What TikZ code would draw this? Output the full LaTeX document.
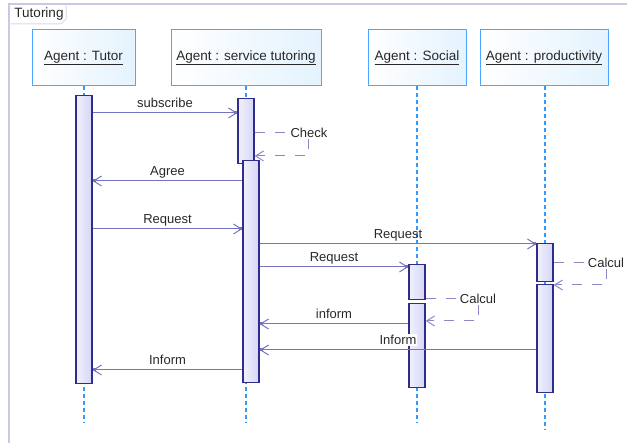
\documentclass[tikz,border=0pt]{standalone}
\usepackage{fontspec}
\setmainfont{Liberation Sans}
\usetikzlibrary{arrows.meta}

\definecolor{headline}{RGB}{77,166,255}
\definecolor{headfill}{RGB}{228,243,254}
\definecolor{actline}{RGB}{46,46,138}
\definecolor{actfill}{RGB}{214,214,248}
\definecolor{msgcol}{RGB}{116,116,192}
\definecolor{lifecol}{RGB}{51,153,255}
\definecolor{framecol}{RGB}{201,201,230}
\definecolor{textcol}{RGB}{40,40,40}

\begin{document}
\begin{tikzpicture}[x=1pt,y=-1pt,
  head/.style={draw=headline, line width=1pt, left color=white, right color=headfill,
    minimum height=56pt, inner sep=0pt, text=textcol, font=\fontsize{13.5}{16}\selectfont},
  act/.style={draw=actline, line width=1.3pt, left color=actfill!35, right color=actfill,
    minimum width=16pt, inner sep=0pt, anchor=north},
  life/.style={lifecol, line width=1.5pt, dash pattern=on 4pt off 3pt},
  msg/.style={msgcol, line width=1pt,
    -{Straight Barb[length=8pt,width=10pt,sep=-3pt]Square[length=3pt,width=3pt]}},
  selfmsg/.style={msgcol!85, line width=1pt, dash pattern=on 10pt off 10pt},
  lbl/.style={midway, yshift=10pt, text height=9.5pt, text depth=0pt, inner sep=0pt,
    text=textcol, font=\fontsize{13}{15}\selectfont},
  selflbl/.style={fill=white, text height=9.5pt, text depth=0pt, inner sep=1pt,
    text=textcol, font=\fontsize{13}{15}\selectfont}]
\useasboundingbox (0,0) rectangle (627,443);

% frame with its name tab
\draw[framecol, line width=1.5pt] (9,443) -- (9,4) -- (627,4);
\draw[framecol!70, line width=1pt] (9,24) -- (61,24) -- (66,19) -- (66,4);
\node[font=\fontsize{13.5}{16}\selectfont, text=textcol, inner sep=0pt] (title) at (39,14) {Tutoring};

% lifeline heads
\node[head, minimum width=103pt] (tutor) at (83.5,58) {\underline{Agent : Tutor}};
\node[head, minimum width=150pt] (service) at (246,58) {\underline{Agent : service tutoring}};
\node[head, minimum width=98pt] (social) at (417,58) {\underline{Agent : Social}};
\node[head, minimum width=128pt] (prod) at (544,58) {\underline{Agent : productivity}};

% lifelines
\coordinate (tutEnd) at (84,423);
\coordinate (svcEnd) at (246,423);
\coordinate (socEnd) at (417,423);
\coordinate (prodEnd) at (545,430);
\draw[life] (tutor.south -| tutEnd) -- (tutEnd);
\draw[life] (service.south -| svcEnd) -- (svcEnd);
\draw[life] (social.south -| socEnd) -- (socEnd);
\draw[life] (prod.south -| prodEnd) -- (prodEnd);

% activation bars
\node[act, minimum height=288pt] (tutA) at (84,95) {};
\node[act, minimum height=65pt] (svcA) at (246,98) {};
\node[act, minimum height=222pt] (svcB) at (251,160) {};
\node[act, minimum height=35pt] (socA) at (417,264) {};
\node[act, minimum height=84pt] (socB) at (417,303) {};
\node[act, minimum height=38pt] (prodA) at (545,243) {};
\node[act, minimum height=108pt] (prodB) at (545,284) {};

% messages
\draw[msg] (tutA.east |- 0,113) -- (svcA.west |- 0,113) node[lbl] {subscribe};
\draw[msg] (svcB.west |- 0,181) -- (tutA.east |- 0,181) node[lbl] {Agree};
\draw[msg] (tutA.east |- 0,229) -- (svcB.west |- 0,229) node[lbl] {Request};
\draw[msg] (svcB.east |- 0,244) -- (prodA.west |- 0,244) node[lbl] {Request};
\draw[msg] (svcB.east |- 0,267) -- (socA.west |- 0,267) node[lbl] {Request};
\draw[msg] (socB.west |- 0,324) -- (svcB.east |- 0,324) node[lbl] {inform};
\draw[msg] (prodB.west |- 0,350) -- (svcB.east |- 0,350) node[lbl, fill=white, inner sep=1pt] {Inform};
\draw[msg] (svcB.west |- 0,370) -- (tutA.east |- 0,370) node[lbl] {Inform};

% self messages
\node[selflbl] (check) at (309,133) {Check};
\coordinate (checkBack) at (0,156);
\draw[selfmsg] (svcA.east |- check) -- (check.west);
\draw[selfmsg, -{Straight Barb[length=8pt,width=10pt]}] (check.south -| 308,0) |- (svcA.east |- checkBack);

\node[selflbl] (calcSoc) at (478,299) {Calcul};
\coordinate (calcSocBack) at (0,321);
\draw[selfmsg] (socA.east |- calcSoc) -- (calcSoc.west);
\draw[selfmsg, -{Straight Barb[length=8pt,width=10pt]}] (calcSoc.south) |- (socB.east |- calcSocBack);

\node[selflbl] (calcProd) at (606,263) {Calcul};
\coordinate (calcProdBack) at (0,285);
\draw[selfmsg] (prodA.east |- calcProd) -- (calcProd.west);
\draw[selfmsg, -{Straight Barb[length=8pt,width=10pt]}] (calcProd.south) |- (prodB.east |- calcProdBack);
\end{tikzpicture}
\end{document}
